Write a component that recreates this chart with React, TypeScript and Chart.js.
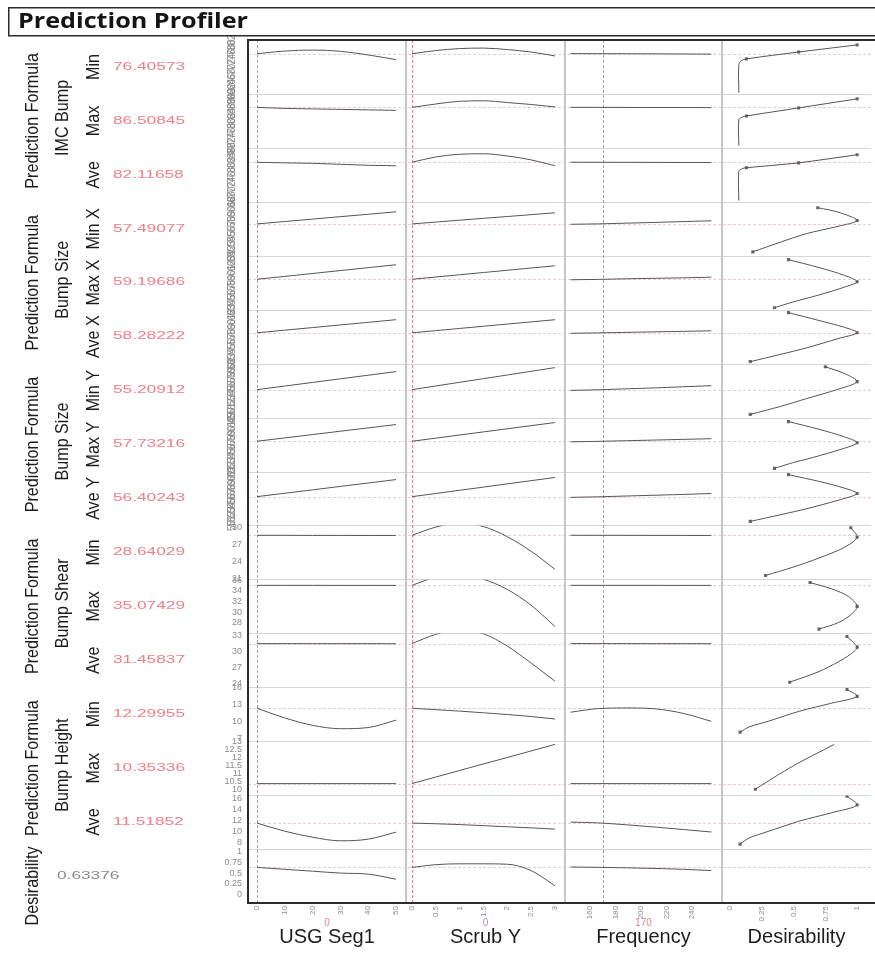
import React, { useEffect, useRef } from 'react';
import { Chart, registerables } from 'chart.js';

Chart.register(...registerables);

// ---------- factors (columns) ----------
const factorNames = ['USG Seg1', 'Scrub Y', 'Frequency', 'Desirability'];
const factorCurrent = [0, 0, 170];
const factorCurrentText = ['0', '0', '170'];
const usgX = [0, 10, 20, 30, 40, 50];
const scrubX = [0, 0.5, 1, 1.5, 2, 2.5, 3];
const freqX = [145, 167, 189, 211, 233, 255];
const usgTicks = [0, 10, 20, 30, 40, 50];
const scrubTicks = [0, 0.5, 1, 1.5, 2, 2.5, 3];
const freqTicks = [160, 180, 200, 220, 240];
const desTicks = [0, 0.25, 0.5, 0.75, 1];
const usgRange = [-3.2, 53.6];
const scrubRange = [-0.125, 3.21];
const freqRange = [140.6, 263.3];
const desRange = [-0.0625, 1.109];

// ---------- responses (rows) ----------
const groupTitles = ['Prediction Formula', 'Prediction Formula', 'Prediction Formula', 'Prediction Formula', 'Prediction Formula', 'Desirability'];
const groupSubtitles = ['IMC Bump', 'Bump Size', 'Bump Size', 'Bump Shear', 'Bump Height', ''];
const groupFirstRow = [0, 3, 6, 9, 12, 15];
const groupLastRow = [2, 5, 8, 11, 14, 15];
const responseNames = ['Min', 'Max', 'Ave', 'Min X', 'Max X', 'Ave X', 'Min Y', 'Max Y', 'Ave Y', 'Min', 'Max', 'Ave', 'Min', 'Max', 'Ave', ''];
const currentValues = [76.40573, 86.50845, 82.11658, 57.49077, 59.19686, 58.28222, 55.20912, 57.73216, 56.40243, 28.64029, 35.07429, 31.45837, 12.29955, 10.35336, 11.51852, 0.63376];
const currentText = ['76.40573', '86.50845', '82.11658', '57.49077', '59.19686', '58.28222', '55.20912', '57.73216', '56.40243', '28.64029', '35.07429', '31.45837', '12.29955', '10.35336', '11.51852', '0.63376'];

const yRanges = [
  [60, 82], [70, 92], [66, 88],
  [51, 62], [53, 64], [52, 63],
  [49, 61], [51, 63], [50, 62],
  [20.8, 30.4], [26, 36.2], [23.25, 33.4],
  [6.5, 16], [9.63, 13], [6.8, 16.6],
  [-0.21, 1.07],
];
const yTicks = [
  [60, 62, 64, 66, 68, 70, 72, 74, 76, 78, 80, 82],
  [70, 72, 74, 76, 78, 80, 82, 84, 86, 88, 90, 92],
  [66, 68, 70, 72, 74, 76, 78, 80, 82, 84, 86, 88],
  [51, 52, 53, 54, 55, 56, 57, 58, 59, 60, 61, 62],
  [53, 54, 55, 56, 57, 58, 59, 60, 61, 62, 63, 64],
  [52, 53, 54, 55, 56, 57, 58, 59, 60, 61, 62, 63],
  [49, 50, 51, 52, 53, 54, 55, 56, 57, 58, 59, 60, 61],
  [51, 52, 53, 54, 55, 56, 57, 58, 59, 60, 61, 62, 63],
  [50, 51, 52, 53, 54, 55, 56, 57, 58, 59, 60, 61, 62],
  [21, 24, 27, 30],
  [28, 30, 32, 34, 36],
  [24, 27, 30, 33],
  [7, 10, 13, 16],
  [10, 10.5, 11, 11.5, 12, 12.5, 13],
  [8, 10, 12, 14, 16],
  [0, 0.25, 0.5, 0.75, 1],
];

// predicted response vs USG Seg1 (at usgX)
const usgCurves = [
  [76.41, 77.5, 77.9, 77.4, 75.9, 74.0],
  [86.51, 86.1, 85.9, 85.7, 85.5, 85.3],
  [82.12, 81.9, 81.7, 81.3, 80.9, 80.7],
  [57.49, 57.98, 58.47, 58.97, 59.46, 59.96],
  [59.2, 59.79, 60.38, 60.98, 61.57, 62.17],
  [58.28, 58.82, 59.35, 59.89, 60.42, 60.96],
  [55.21, 56.01, 56.81, 57.62, 58.42, 59.22],
  [57.73, 58.47, 59.22, 59.96, 60.7, 61.44],
  [56.4, 57.16, 57.92, 58.68, 59.44, 60.2],
  [28.64, 28.64, 28.63, 28.63, 28.62, 28.62],
  [35.07, 35.07, 35.07, 35.06, 35.06, 35.06],
  [31.46, 31.46, 31.45, 31.45, 31.45, 31.44],
  [12.3, 10.6, 9.3, 8.7, 8.9, 10.2],
  [10.35, 10.35, 10.35, 10.35, 10.35, 10.35],
  [11.52, 10.05, 8.96, 8.3, 8.6, 9.87],
  [0.634, 0.59, 0.545, 0.5, 0.475, 0.355],
];
// predicted response vs Scrub Y (at scrubX)
const scrubCurves = [
  [76.41, 77.7, 78.5, 78.7, 78.1, 77.1, 75.5],
  [86.51, 87.9, 89.0, 89.2, 88.5, 87.7, 86.7],
  [82.12, 84.3, 85.4, 85.6, 84.7, 83.1, 80.7],
  [57.49, 57.87, 58.25, 58.63, 59.0, 59.38, 59.76],
  [59.2, 59.66, 60.12, 60.58, 61.04, 61.5, 61.96],
  [58.28, 58.73, 59.17, 59.62, 60.07, 60.51, 60.96],
  [55.21, 56.03, 56.84, 57.66, 58.47, 59.29, 60.11],
  [57.73, 58.42, 59.12, 59.81, 60.5, 61.2, 61.89],
  [56.4, 57.11, 57.82, 58.53, 59.25, 59.96, 60.67],
  [28.64, 30.1, 30.8, 30.2, 28.4, 25.8, 22.6],
  [35.07, 36.6, 37.0, 36.2, 34.3, 31.3, 27.3],
  [31.46, 33.2, 34.0, 33.3, 31.0, 27.8, 24.4],
  [12.3, 12.05, 11.8, 11.5, 11.2, 10.85, 10.4],
  [10.35, 10.76, 11.17, 11.58, 11.98, 12.39, 12.8],
  [11.52, 11.4, 11.25, 11.05, 10.85, 10.65, 10.42],
  [0.634, 0.7, 0.72, 0.72, 0.71, 0.56, 0.2],
];
// predicted response vs Frequency (at freqX)
const freqCurves = [
  [76.45, 76.42, 76.4, 76.35, 76.3, 76.25],
  [86.55, 86.52, 86.5, 86.47, 86.45, 86.42],
  [82.15, 82.13, 82.1, 82.08, 82.05, 82.02],
  [57.42, 57.5, 57.65, 57.8, 57.97, 58.13],
  [59.1, 59.18, 59.3, 59.4, 59.5, 59.62],
  [58.18, 58.27, 58.38, 58.48, 58.58, 58.7],
  [55.05, 55.18, 55.4, 55.6, 55.85, 56.1],
  [57.6, 57.71, 57.85, 58.0, 58.15, 58.3],
  [56.25, 56.37, 56.55, 56.72, 56.9, 57.1],
  [28.65, 28.64, 28.64, 28.63, 28.63, 28.62],
  [35.08, 35.07, 35.07, 35.07, 35.06, 35.06],
  [31.47, 31.46, 31.46, 31.45, 31.45, 31.44],
  [11.6, 12.25, 12.35, 12.2, 11.4, 10.0],
  [10.35, 10.35, 10.35, 10.35, 10.35, 10.35],
  [11.7, 11.55, 11.2, 10.8, 10.35, 9.9],
  [0.645, 0.636, 0.625, 0.61, 0.59, 0.56],
];
// desirability function: [desirability, response]
const desCurves = [
  [[0.07, 60.5], [0.07, 72], [0.09, 73.6], [0.13, 74.3], [0.54, 77.1], [1.0, 80]],
  [[0.07, 71], [0.07, 81.5], [0.1, 82.6], [0.13, 83.0], [0.54, 86.3], [1.0, 90]],
  [[0.07, 66.5], [0.07, 78.5], [0.1, 79.6], [0.13, 79.9], [0.54, 81.9], [1.0, 85.2]],
  [[0.69, 60.8], [0.85, 59.9], [1.0, 58.2], [0.85, 57.0], [0.6, 55.5], [0.4, 53.8], [0.18, 51.8]],
  [[0.46, 63.2], [0.7, 61.6], [0.9, 60.0], [1.0, 58.7], [0.9, 57.6], [0.7, 56.0], [0.5, 54.6], [0.35, 53.4]],
  [[0.46, 62.4], [0.7, 60.8], [0.9, 59.4], [1.0, 58.3], [0.85, 57.1], [0.6, 55.2], [0.4, 53.9], [0.16, 52.4]],
  [[0.75, 60.3], [0.9, 58.8], [1.0, 57.0], [0.85, 55.3], [0.6, 53.2], [0.4, 51.5], [0.16, 49.7]],
  [[0.46, 62.1], [0.7, 60.4], [0.9, 58.7], [1.0, 57.4], [0.88, 56.0], [0.65, 54.1], [0.5, 53.0], [0.35, 51.7]],
  [[0.46, 61.3], [0.7, 59.8], [0.9, 58.3], [1.0, 57.1], [0.85, 55.6], [0.6, 53.7], [0.4, 52.4], [0.16, 50.9]],
  [[0.95, 30.0], [1.0, 28.3], [0.9, 26.5], [0.7, 24.6], [0.5, 23.0], [0.28, 21.5]],
  [[0.63, 35.6], [0.8, 34.4], [0.93, 33.0], [1.0, 31.1], [0.95, 29.5], [0.85, 28.0], [0.7, 26.8]],
  [[0.92, 32.8], [1.0, 30.8], [0.95, 29.5], [0.85, 28.0], [0.7, 26.2], [0.47, 24.2]],
  [[0.92, 15.6], [1.0, 14.4], [0.8, 13.2], [0.55, 11.8], [0.3, 10.0], [0.15, 9.0], [0.08, 8.1]],
  [[0.82, 12.8], [0.65, 12.1], [0.53, 11.6], [0.4, 11.0], [0.28, 10.4], [0.2, 10.0]],
  [[0.92, 16.4], [1.0, 14.8], [0.8, 13.4], [0.55, 11.9], [0.3, 10.0], [0.15, 8.8], [0.08, 7.7]],
  [],
];
// which points of each desirability curve carry a handle marker
const desMarkers = [
  [3, 4, 5], [3, 4, 5], [3, 4, 5],
  [0, 2, 6], [0, 3, 7], [0, 3, 7],
  [0, 2, 6], [0, 3, 7], [0, 3, 7],
  [0, 1, 5], [0, 3, 6], [0, 1, 5],
  [0, 1, 6], [5], [0, 1, 6],
  [],
];

// ---------- layout / styling ----------
const NROWS = 16;
const colWeights = [159, 160, 158, 150];
const FONT = '"Liberation Sans", Arial, sans-serif';
const LINE = '#555555';

function buildDatasets() {
  const ds: any[] = [];
  const grids = [usgX, scrubX, freqX];
  const curves = [usgCurves, scrubCurves, freqCurves];
  for (let r = 0; r < NROWS; r++) {
    for (let c = 0; c < 3; c++) {
      ds.push({
        data: grids[c].map((x, i) => ({ x, y: curves[c][r][i] })),
        xAxisID: 'x' + c,
        yAxisID: 'y' + r,
        showLine: true,
        borderColor: LINE,
        borderWidth: 1,
        pointRadius: 0,
        cubicInterpolationMode: 'monotone',
      });
    }
    if (desCurves[r].length) {
      ds.push({
        data: desCurves[r].map((p) => ({ x: p[0], y: p[1] })),
        xAxisID: 'x3',
        yAxisID: 'y' + r,
        showLine: true,
        borderColor: LINE,
        borderWidth: 1,
        pointRadius: 0,
        tension: 0.3,
      });
      ds.push({
        data: desMarkers[r].map((i) => ({ x: desCurves[r][i][0], y: desCurves[r][i][1] })),
        xAxisID: 'x3',
        yAxisID: 'y' + r,
        showLine: false,
        pointStyle: 'rect',
        pointRadius: 2.2,
        pointBackgroundColor: '#6a6a6a',
        pointBorderColor: '#6a6a6a',
        pointBorderWidth: 0,
      });
    }
  }
  return ds;
}

function buildScales() {
  const scales: any = {};
  const xr = [usgRange, scrubRange, freqRange, desRange];
  const xt = [usgTicks, scrubTicks, freqTicks, desTicks];
  for (let c = 0; c < 4; c++) {
    scales['x' + c] = {
      type: 'linear',
      axis: 'x',
      position: 'bottom',
      stack: 'cols',
      stackWeight: colWeights[c],
      weight: c,
      min: xr[c][0],
      max: xr[c][1],
      grid: { display: false, drawTicks: false },
      border: { display: false },
      afterBuildTicks: (s: any) => {
        s.ticks = xt[c].map((v) => ({ value: v }));
      },
      afterFit: (s: any) => {
        s.height = 50;
        s.paddingLeft = 0;
        s.paddingRight = 0;
      },
      ticks: {
        autoSkip: false,
        minRotation: 90,
        maxRotation: 90,
        padding: 3,
        color: '#8c8c8c',
        font: { size: 8, family: FONT },
        callback: (v: any) => String(v),
      },
      title: {
        display: true,
        text: factorNames[c],
        color: '#1e1e1e',
        font: { size: 20, family: FONT },
        padding: { top: 0, bottom: 4 },
      },
    };
  }
  for (let r = 0; r < NROWS; r++) {
    const rot = r < 9;
    scales['y' + r] = {
      type: 'linear',
      axis: 'y',
      position: 'left',
      stack: 'rows',
      stackWeight: 1,
      weight: NROWS - r,
      min: yRanges[r][0],
      max: yRanges[r][1],
      grid: { display: false, drawTicks: false },
      border: { display: false },
      afterBuildTicks: (s: any) => {
        s.ticks = yTicks[r].map((v) => ({ value: v }));
      },
      afterFit: (s: any) => {
        s.width = 38;
        s.paddingTop = 0;
        s.paddingBottom = 0;
      },
      ticks: {
        autoSkip: false,
        minRotation: rot ? 90 : 0,
        maxRotation: rot ? 90 : 0,
        crossAlign: rot ? 'center' : 'near',
        padding: rot ? 10 : 6,
        color: '#8c8c8c',
        font: { size: rot ? 10 : 9, family: FONT },
        callback: (v: any) => String(v),
      },
    };
  }
  return scales;
}

function vText(ctx: CanvasRenderingContext2D, text: string, x: number, y: number, k: number) {
  ctx.save();
  ctx.translate(x, y);
  ctx.rotate(-Math.PI / 2);
  ctx.scale(k, 1);
  ctx.fillText(text, 0, 0);
  ctx.restore();
}

const profilerPlugin = {
  id: 'profiler',
  beforeDatasetsDraw(chart: any) {
    const { ctx, chartArea: ca, scales } = chart;
    ctx.save();
    // row separators
    ctx.strokeStyle = '#d6d6d6';
    ctx.lineWidth = 1;
    for (let r = 0; r < NROWS - 1; r++) {
      const y = Math.round(scales['y' + r].bottom) + 0.5;
      ctx.beginPath();
      ctx.moveTo(ca.left, y);
      ctx.lineTo(ca.right, y);
      ctx.stroke();
    }
    // current response value lines
    ctx.setLineDash([3, 2]);
    ctx.strokeStyle = 'rgba(215,120,130,0.4)';
    for (let r = 0; r < NROWS; r++) {
      const y = Math.round(scales['y' + r].getPixelForValue(currentValues[r])) + 0.5;
      ctx.beginPath();
      ctx.moveTo(ca.left, y);
      ctx.lineTo(ca.right, y);
      ctx.stroke();
    }
    // current factor settings
    ctx.strokeStyle = 'rgba(225,80,95,0.7)';
    for (let c = 0; c < 3; c++) {
      const x = Math.round(scales['x' + c].getPixelForValue(factorCurrent[c])) + 0.5;
      ctx.beginPath();
      ctx.moveTo(x, ca.top);
      ctx.lineTo(x, ca.bottom);
      ctx.stroke();
    }
    // column separators
    ctx.setLineDash([]);
    ctx.strokeStyle = '#c6c6c6';
    ctx.lineWidth = 2;
    for (let c = 0; c < 3; c++) {
      const x = Math.round(scales['x' + c].right);
      ctx.beginPath();
      ctx.moveTo(x, ca.top);
      ctx.lineTo(x, ca.bottom);
      ctx.stroke();
    }
    ctx.restore();
  },
  beforeDatasetDraw(chart: any, args: any) {
    const { ctx } = chart;
    const { xScale, yScale } = args.meta;
    ctx.save();
    ctx.beginPath();
    ctx.rect(xScale.left, yScale.top, xScale.right - xScale.left, yScale.bottom - yScale.top);
    ctx.clip();
  },
  afterDatasetDraw(chart: any) {
    chart.ctx.restore();
  },
  afterDraw(chart: any) {
    const { ctx, chartArea: ca, scales } = chart;
    ctx.save();
    // outer frame
    ctx.strokeStyle = '#2b2b2b';
    ctx.lineWidth = 2;
    ctx.beginPath();
    ctx.moveTo(ca.right + 5, ca.top);
    ctx.lineTo(ca.left, ca.top);
    ctx.lineTo(ca.left, ca.bottom);
    ctx.lineTo(ca.right + 5, ca.bottom);
    ctx.stroke();

    // response labels (rotated)
    ctx.fillStyle = '#1c1c1c';
    ctx.font = '19px ' + FONT;
    ctx.textAlign = 'center';
    ctx.textBaseline = 'middle';
    const k = 0.85;
    for (let g = 0; g < groupTitles.length; g++) {
      const top = scales['y' + groupFirstRow[g]].top;
      const bottom = scales['y' + groupLastRow[g]].bottom;
      const cy = (top + bottom) / 2;
      if (groupSubtitles[g]) {
        vText(ctx, groupTitles[g], 33, cy, k);
        vText(ctx, groupSubtitles[g], 63, cy - 3, k);
      } else {
        vText(ctx, groupTitles[g], 33, cy + 10, k);
      }
    }
    for (let r = 0; r < NROWS; r++) {
      if (!responseNames[r]) continue;
      const s = scales['y' + r];
      vText(ctx, responseNames[r], 94, (s.top + s.bottom) / 2, k);
    }

    // current response values
    ctx.font = '10px ' + FONT;
    ctx.textAlign = 'left';
    const sx = 72 / ctx.measureText('76.40573').width;
    for (let r = 0; r < NROWS; r++) {
      const s = scales['y' + r];
      const isDes = r === NROWS - 1;
      ctx.fillStyle = isDes ? '#8a8a8a' : '#ec7f89';
      ctx.save();
      ctx.translate(isDes ? 57 : 113, (s.top + s.bottom) / 2);
      ctx.scale(sx, 1);
      ctx.fillText(currentText[r], 0, 0);
      ctx.restore();
    }

    // current factor values under axes
    ctx.textAlign = 'center';
    ctx.fillStyle = '#ec7f89';
    ctx.font = '10px ' + FONT;
    for (let c = 0; c < 3; c++) {
      const s = scales['x' + c];
      ctx.fillText(factorCurrentText[c], (s.left + s.right) / 2, 923);
    }

    // title box
    ctx.fillStyle = '#ffffff';
    ctx.fillRect(8, 7, 880, 29);
    ctx.strokeStyle = '#2a2a2a';
    ctx.lineWidth = 1.5;
    ctx.strokeRect(8.75, 7.75, 880, 28);
    ctx.fillStyle = '#141414';
    ctx.font = 'bold 21px "Open Sans", Lato, sans-serif';
    ctx.textAlign = 'left';
    ctx.textBaseline = 'middle';
    const tw = ctx.measureText('Prediction Profiler').width;
    ctx.save();
    ctx.translate(18, 22);
    ctx.scale(230 / tw, 1);
    ctx.fillText('Prediction Profiler', 0, 0);
    ctx.restore();
    ctx.restore();
  },
};

export default function App() {
  const ref = useRef<HTMLCanvasElement>(null);
  useEffect(() => {
    document.body.style.margin = '0';
    document.body.style.overflow = 'hidden';
    const chart = new Chart(ref.current as HTMLCanvasElement, {
      type: 'scatter',
      data: { datasets: buildDatasets() },
      options: {
        responsive: false,
        animation: false,
        devicePixelRatio: 1,
        events: [],
        layout: { padding: { left: 210, top: 40, right: 0, bottom: 4 } },
        scales: buildScales(),
        plugins: {
          legend: { display: false },
          tooltip: { enabled: false },
          title: { display: false },
        },
      } as any,
      plugins: [profilerPlugin as any],
    });
    return () => chart.destroy();
  }, []);
  return (
    <canvas
      ref={ref}
      width={875}
      height={957}
      style={{ display: 'block', width: 875, height: 957 }}
    />
  );
}
